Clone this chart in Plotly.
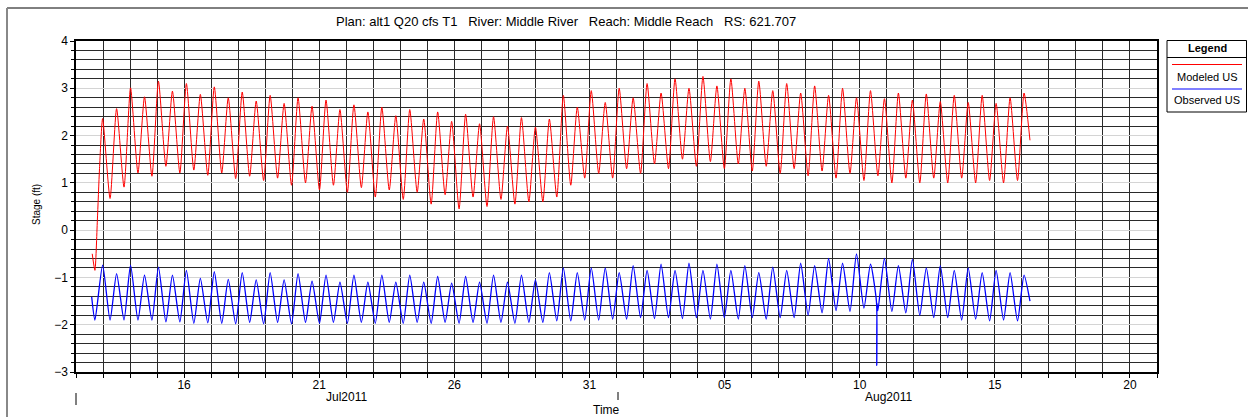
import pandas as pd
import plotly.graph_objects as go

BASE = pd.Timestamp("2011-07-12")

# ---------------- data (day offsets from 2011-07-12 00:00) ----------------
peak_t = [0.985, 1.502, 2.018, 2.535, 3.051, 3.568, 4.085, 4.601, 5.118, 5.634,
          6.151, 6.668, 7.184, 7.701, 8.217, 8.734, 9.251, 9.767, 10.284, 10.800,
          11.317, 11.834, 12.350, 12.867, 13.383, 13.900, 14.417, 14.933, 15.450, 15.966,
          16.483, 17.000, 17.516, 18.033, 18.549, 19.066, 19.583, 20.099, 20.616, 21.132,
          21.649, 22.166, 22.682, 23.199, 23.715, 24.232, 24.749, 25.265, 25.782, 26.298,
          26.815, 27.332, 27.848, 28.365, 28.881, 29.398, 29.915, 30.431, 30.948, 31.464,
          31.981, 32.498, 33.014, 33.531, 34.047, 34.564, 35.081]
trough_t = [1.260, 1.777, 2.293, 2.810, 3.326, 3.843, 4.360, 4.876, 5.393, 5.909,
            6.426, 6.943, 7.459, 7.976, 8.492, 9.009, 9.526, 10.042, 10.559, 11.075,
            11.592, 12.109, 12.625, 13.142, 13.658, 14.175, 14.692, 15.208, 15.725, 16.241,
            16.758, 17.275, 17.791, 18.308, 18.824, 19.341, 19.858, 20.374, 20.891, 21.407,
            21.924, 22.441, 22.957, 23.474, 23.990, 24.507, 25.024, 25.540, 26.057, 26.573,
            27.090, 27.607, 28.123, 28.640, 29.156, 29.673, 30.190, 30.706, 31.223, 31.739,
            32.256, 32.773, 33.289, 33.806, 34.322, 34.839, 35.300]

red_pre_t = [0.60, 0.70, 0.79, 0.87]
red_pre_v = [-0.50, -0.85, 0.20, 1.30]
red_peak = [2.36, 2.57, 3.01, 2.82, 3.15, 2.94, 3.10, 2.87, 3.03, 2.80,
            2.92, 2.73, 2.85, 2.68, 2.80, 2.62, 2.75, 2.55, 2.65, 2.50,
            2.60, 2.42, 2.55, 2.35, 2.50, 2.30, 2.45, 2.25, 2.40, 2.20,
            2.38, 2.18, 2.35, 2.85, 2.60, 2.95, 2.70, 3.00, 2.80, 3.10,
            2.90, 3.20, 3.00, 3.25, 3.05, 3.20, 3.00, 3.15, 2.95, 3.10,
            2.90, 3.05, 2.85, 3.00, 2.80, 2.95, 2.78, 2.90, 2.75, 2.88,
            2.72, 2.85, 2.70, 2.85, 2.68, 2.80, 2.90]
red_trough = [0.67, 0.91, 1.21, 1.14, 1.35, 1.21, 1.27, 1.16, 1.21, 1.09,
              1.14, 1.05, 1.10, 0.95, 1.00, 0.85, 0.95, 0.80, 0.90, 0.70,
              0.85, 0.65, 0.80, 0.55, 0.75, 0.45, 0.70, 0.50, 0.65, 0.55,
              0.60, 0.60, 0.70, 0.95, 1.10, 1.20, 1.10, 1.30, 1.20, 1.40,
              1.30, 1.50, 1.35, 1.45, 1.30, 1.40, 1.25, 1.35, 1.20, 1.30,
              1.15, 1.25, 1.10, 1.20, 1.05, 1.15, 1.00, 1.10, 1.00, 1.10,
              1.00, 1.10, 1.00, 1.05, 1.00, 1.05, 1.90]

blue_pre_t = [0.58, 0.70]
blue_pre_v = [-1.41, -1.90]
blue_peak = [-0.74, -0.92, -0.74, -0.95, -0.78, -0.95, -0.85, -1.02, -0.88, -1.04,
             -0.90, -1.05, -0.90, -1.05, -0.92, -1.08, -0.95, -1.10, -0.95, -1.10,
             -0.95, -1.10, -0.95, -1.10, -0.98, -1.12, -0.98, -1.10, -0.95, -1.10,
             -0.95, -1.05, -0.90, -0.80, -0.90, -0.80, -0.80, -0.90, -0.75, -0.85,
             -0.72, -0.85, -0.70, -0.85, -0.72, -0.85, -0.75, -0.90, -0.78, -0.85,
             -0.70, -0.75, -0.60, -0.70, -0.50, -0.72, -0.60, -0.75, -0.62, -0.80,
             -0.75, -0.85, -0.80, -0.90, -0.85, -0.90, -0.95]
blue_trough = [-1.90, -1.90, -1.90, -1.90, -1.94, -1.94, -1.97, -1.96, -1.97, -1.98,
               -1.95, -1.98, -1.95, -1.98, -1.95, -1.97, -1.95, -1.97, -1.95, -1.97,
               -1.95, -1.97, -1.95, -1.97, -1.95, -1.97, -1.95, -1.97, -1.95, -1.97,
               -1.95, -1.95, -1.92, -1.92, -1.90, -1.90, -1.88, -1.88, -1.85, -1.87,
               -1.85, -1.87, -1.85, -1.88, -1.85, -1.88, -1.85, -1.88, -1.85, -1.85,
               -1.80, -1.75, -1.70, -1.72, -1.65, -1.70, -1.72, -1.75, -1.80, -1.85,
               -1.85, -1.90, -1.88, -1.92, -1.90, -1.92, -1.50]
spike_t = [29.62, 29.63, 29.64]
spike_v = [-1.52, -2.86, -1.55]

label_days = [4, 9, 14, 19, 24, 29, 34, 39]   # Jul16 ... Aug20

TITLE = "Plan: alt1 Q20 cfs T1   River: Middle River   Reach: Middle Reach   RS: 621.707"


def series(pre_t, pre_v, pk, tr, extra_t=(), extra_v=()):
    pts = list(zip(pre_t, pre_v))
    for i in range(len(pk)):
        pts.append((peak_t[i], pk[i]))
        pts.append((trough_t[i], tr[i]))
    pts += list(zip(extra_t, extra_v))
    pts.sort(key=lambda p: p[0])
    xs = [BASE + pd.Timedelta(days=t) for t, _ in pts]
    ys = [v for _, v in pts]
    return xs, ys


rx, ry = series(red_pre_t, red_pre_v, red_peak, red_trough)
bx, by = series(blue_pre_t, blue_pre_v, blue_peak, blue_trough, spike_t, spike_v)

fig = go.Figure()
fig.add_trace(go.Scatter(x=rx, y=ry, mode="lines", name="Modeled US",
                         line=dict(color="#ff0000", width=1, shape="spline", smoothing=0.6)))
fig.add_trace(go.Scatter(x=bx, y=by, mode="lines", name="Observed US",
                         line=dict(color="#0000ff", width=1.3, shape="spline", smoothing=0.6)))

W, H = 1248, 417
L, R, T, B = 76, 1157, 41, 372


def X(px):
    return (px - L) / (R - L)


def Y(py):
    return (B - py) / (B - T)


FONT = "Liberation Sans, Arial, sans-serif"
GRID = "#2a2a2a"

fig.update_layout(
    width=W, height=H,
    margin=dict(l=L, r=W - R, t=T, b=H - B, pad=0),
    paper_bgcolor="white", plot_bgcolor="white",
    font=dict(family=FONT, size=12, color="black"),
    showlegend=False,
    xaxis=dict(
        type="date",
        range=[BASE, BASE + pd.Timedelta(days=40)],
        tickvals=[BASE + pd.Timedelta(days=d) for d in label_days],
        tickformat="%d",
        ticks="outside", ticklen=4, tickcolor="black",
        ticklabelstandoff=-3,
        showgrid=True, gridcolor=GRID, gridwidth=1,
        minor=dict(dtick=86400000, tick0=BASE, ticks="outside", ticklen=4,
                   tickcolor="black", showgrid=True, gridcolor=GRID, gridwidth=1),
        showline=True, linecolor="black", linewidth=1.5, mirror=True,
        zeroline=False, tickfont=dict(size=12, family=FONT),
    ),
    yaxis=dict(
        range=[-3, 4], dtick=1, tick0=0,
        ticks="outside", ticklen=4, tickcolor="black",
        showgrid=True, gridcolor="#d4d4d4", gridwidth=1,
        minor=dict(dtick=0.2, tick0=0, ticks="outside", ticklen=3, tickcolor="black",
                   showgrid=True, gridcolor=GRID, gridwidth=1),
        showline=True, linecolor="black", linewidth=1.5, mirror=True,
        zeroline=False, tickfont=dict(size=12, family=FONT),
    ),
)

NB = "\u00a0"
ann = []
ann.append(dict(text=TITLE.replace(" ", NB), x=X(566), y=Y(21), xref="paper", yref="paper",
                showarrow=False, font=dict(size=13, family=FONT), xanchor="center", yanchor="middle"))
ann.append(dict(text="Stage (ft)", x=X(36), y=Y(205), xref="paper", yref="paper",
                showarrow=False, textangle=-90, font=dict(size=10, family=FONT),
                xanchor="center", yanchor="middle"))
ann.append(dict(text="Jul2011", x=X(346), y=Y(397), xref="paper", yref="paper",
                showarrow=False, font=dict(size=12, family=FONT), xanchor="center", yanchor="middle"))
ann.append(dict(text="Aug2011", x=X(888), y=Y(397), xref="paper", yref="paper",
                showarrow=False, font=dict(size=12, family=FONT), xanchor="center", yanchor="middle"))
ann.append(dict(text="Time", x=X(606), y=Y(410), xref="paper", yref="paper",
                showarrow=False, font=dict(size=12, family=FONT), xanchor="center", yanchor="middle"))
# legend texts
ann.append(dict(text="<b>Legend</b>", x=X(1207), y=Y(48.5), xref="paper", yref="paper",
                showarrow=False, font=dict(size=11, family=FONT), xanchor="center", yanchor="middle"))
ann.append(dict(text="Modeled US", x=X(1207), y=Y(76.5), xref="paper", yref="paper",
                showarrow=False, font=dict(size=11, family=FONT), xanchor="center", yanchor="middle"))
ann.append(dict(text="Observed US", x=X(1207), y=Y(100), xref="paper", yref="paper",
                showarrow=False, font=dict(size=11, family=FONT), xanchor="center", yanchor="middle"))
fig.update_layout(annotations=ann)

shapes = []
# outer frame
shapes.append(dict(type="line", xref="paper", yref="paper", x0=X(7), x1=X(1248), y0=Y(8), y1=Y(8),
                   line=dict(color="black", width=1)))
shapes.append(dict(type="line", xref="paper", yref="paper", x0=X(7), x1=X(7), y0=Y(8), y1=Y(417),
                   line=dict(color="#888888", width=2)))
# month boundary marks
shapes.append(dict(type="line", xref="paper", yref="paper", x0=X(76), x1=X(76), y0=Y(393), y1=Y(405),
                   line=dict(color="black", width=1)))
shapes.append(dict(type="line", xref="paper", yref="paper", x0=X(618), x1=X(618), y0=Y(392), y1=Y(400),
                   line=dict(color="black", width=1)))
# legend box
shapes.append(dict(type="rect", xref="paper", yref="paper", x0=X(1167), x1=X(1246.5), y0=Y(112), y1=Y(40.5),
                   line=dict(color="black", width=1), fillcolor="white"))
shapes.append(dict(type="line", xref="paper", yref="paper", x0=X(1167), x1=X(1246.5), y0=Y(57.5), y1=Y(57.5),
                   line=dict(color="black", width=1)))
shapes.append(dict(type="line", xref="paper", yref="paper", x0=X(1172), x1=X(1242), y0=Y(64.5), y1=Y(64.5),
                   line=dict(color="#ff0000", width=1)))
shapes.append(dict(type="line", xref="paper", yref="paper", x0=X(1172), x1=X(1242), y0=Y(89), y1=Y(89),
                   line=dict(color="#0000ff", width=1)))
fig.update_layout(shapes=shapes)

fig.write_html("out.html")
